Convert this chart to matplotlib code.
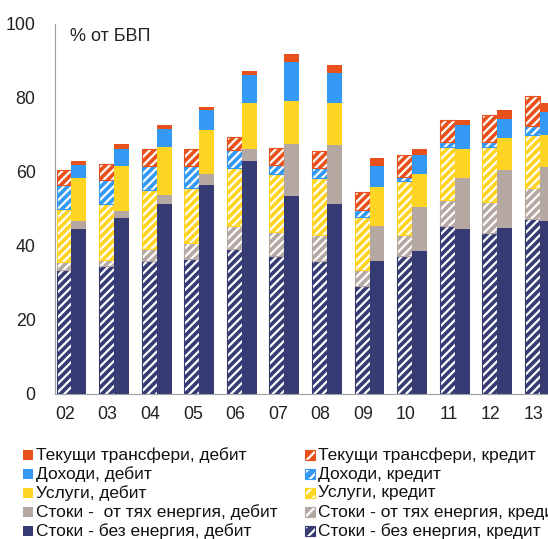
import numpy as np
import matplotlib.pyplot as plt
from matplotlib.patches import Rectangle

plt.rcParams['font.family'] = ['Liberation Sans', 'DejaVu Sans']
plt.rcParams['hatch.linewidth'] = 1.6

years = ['02', '03', '04', '05', '06', '07', '08', '09', '10', '11', '12', '13']

# кредит (штриховани колони), % от БВП
cr_bez = [33.4, 34.5, 35.9, 36.4, 39.1, 37.3, 35.9, 29.1, 37.3, 45.4, 43.5, 47.2]
cr_energ = [2.2, 1.6, 3.1, 4.2, 6.2, 6.4, 6.9, 4.3, 5.5, 6.9, 8.3, 8.5]
cr_uslugi = [14.3, 15.3, 16.2, 15.1, 15.7, 15.8, 15.4, 14.4, 14.6, 14.4, 14.9, 14.3]
cr_dohodi = [6.5, 6.3, 6.3, 5.8, 4.8, 2.3, 2.9, 1.8, 1.2, 1.4, 1.4, 2.3]
cr_transf = [4.0, 4.5, 4.7, 4.7, 3.6, 4.7, 4.5, 5.0, 5.9, 6.0, 7.4, 8.2]

# дебит (плътни колони)
db_bez = [44.6, 47.6, 51.4, 56.3, 62.8, 53.4, 51.4, 35.8, 38.6, 44.4, 44.8, 46.7]
db_energ = [2.0, 1.8, 2.4, 3.2, 3.3, 14.2, 15.8, 9.5, 11.9, 13.8, 15.8, 14.6]
db_uslugi = [11.6, 12.1, 12.9, 11.9, 12.5, 11.5, 11.4, 10.6, 9.0, 8.1, 8.5, 8.6]
db_dohodi = [3.7, 4.7, 4.8, 5.4, 7.7, 10.6, 8.1, 5.6, 5.0, 6.3, 5.3, 6.3]
db_transf = [0.9, 1.2, 1.3, 0.7, 0.9, 2.1, 2.1, 2.1, 1.6, 1.5, 2.2, 2.4]

names_db = ['Стоки - без енергия, дебит', 'Стоки -  от тях енергия, дебит', 'Услуги, дебит',
            'Доходи, дебит', 'Текущи трансфери, дебит']
names_cr = ['Стоки - без енергия, кредит', 'Стоки - от тях енергия, кредит', 'Услуги, кредит',
            'Доходи, кредит', 'Текущи трансфери, кредит']
colors = ['#363c73', '#b5a8a2', '#ffd422', '#3399f5', '#e8511c']

credit = [cr_bez, cr_energ, cr_uslugi, cr_dohodi, cr_transf]
debit = [db_bez, db_energ, db_uslugi, db_dohodi, db_transf]

W, H = 548, 539
fig = plt.figure(figsize=(W / 100, H / 100), dpi=100)
ax = fig.add_axes([55 / W, 1 - 393.5 / H, 1 - 55 / W, 369.5 / H])

x = np.arange(len(years))
w = 0.35

bottom = np.zeros(len(years))
for vals, c in zip(credit, colors):
    ax.bar(x - w / 2, vals, w, bottom=bottom, color=c, edgecolor='white', hatch='////', linewidth=0)
    ax.bar(x - w / 2, vals, w, bottom=bottom, fill=False, edgecolor=c, linewidth=0.8)
    bottom += np.array(vals)

bottom = np.zeros(len(years))
for vals, c in zip(debit, colors):
    ax.bar(x + w / 2, vals, w, bottom=bottom, color=c, linewidth=0)
    bottom += np.array(vals)

ax.set_xlim(-0.387, 11.19)
ax.set_ylim(0, 100)
ax.set_yticks([0, 20, 40, 60, 80, 100])
ax.set_xticks(x - 0.15)
ax.set_xticklabels(years)
ax.tick_params(length=0, labelsize=12.8, colors='#222222')
ax.tick_params(axis='y', pad=14)
ax.tick_params(axis='x', pad=9)
for s in ['top', 'right']:
    ax.spines[s].set_visible(False)
ax.spines['left'].set_color('#a0a0a0')
ax.spines['bottom'].set_color('#a0a0a0')

ax.text(0.03, 0.965, '% от БВП', transform=ax.transAxes, fontsize=13, va='center', color='#222222')

# легенда - две колони, ръчно подредени
rows_y = [531, 512, 493, 474, 455]
for i in range(5):
    yc = 1 - rows_y[i] / H
    sq = 10
    fig.add_artist(Rectangle((23 / W, yc - sq / 2 / H), sq / W, sq / H, transform=fig.transFigure,
                             facecolor=colors[i], linewidth=0))
    fig.text(36 / W, yc, names_db[i], fontsize=12.5, va='center', color='#111111')
    fig.add_artist(Rectangle((305 / W, yc - sq / 2 / H), sq / W, sq / H, transform=fig.transFigure,
                             facecolor=colors[i], edgecolor='white', hatch='///', linewidth=0))
    fig.add_artist(Rectangle((305 / W, yc - sq / 2 / H), sq / W, sq / H, transform=fig.transFigure,
                             fill=False, edgecolor=colors[i], linewidth=0.8))
    fig.text(318 / W, yc, names_cr[i], fontsize=12.5, va='center', color='#111111')

fig.savefig('out.png', dpi=100)
